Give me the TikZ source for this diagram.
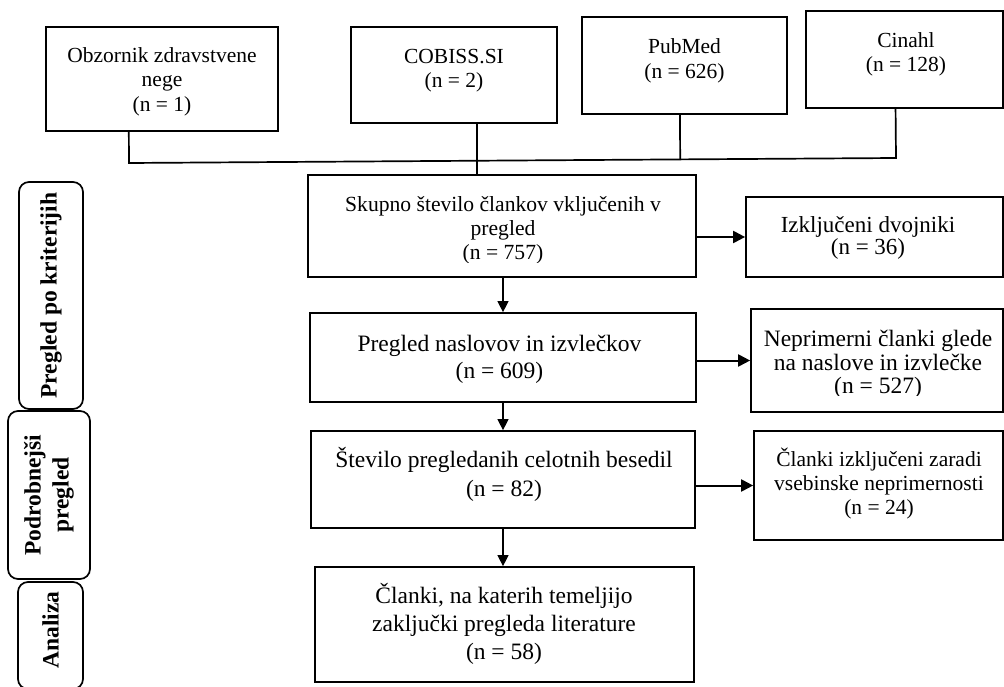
\documentclass[tikz,border=0pt]{standalone}
\usepackage{fontspec}
\setmainfont{Liberation Serif}
\usetikzlibrary{arrows.meta,calc,fit}

\tikzset{
  frame/.style={draw, line width=1.7pt, rectangle, inner sep=0pt},
  phase/.style={draw, line width=1.7pt, rounded corners=10pt, inner sep=0pt},
  toptext/.style={align=center, inner sep=0pt, font=\fontsize{21.5}{24.5}\selectfont},
  midtext/.style={align=center, inner sep=0pt, font=\fontsize{23.5}{28}\selectfont},
  sidetext/.style={align=center, inner sep=0pt, font=\fontsize{22.5}{23.5}\selectfont},
  phasetext/.style={align=center, inner sep=0pt, rotate=90, font=\fontsize{23.5}{28}\selectfont\bfseries},
  conn/.style={line width=1.7pt},
  downarrow/.style={line width=1.1pt, -{Triangle[length=11pt,width=11pt]}},
  sidearrow/.style={line width=2pt, -{Triangle[length=12pt,width=12pt]}},
}

\begin{document}
\begin{tikzpicture}[x=1pt, y=-1pt]
\useasboundingbox (0,0) rectangle (1004,687);
\clip (0,0) rectangle (1004,687);
\fill[white] (0,0) rectangle (1004,687);

% source databases
\node[frame, fit={(46,27) (278,131)}] (obz) {};
\node[frame, fit={(351,27) (557,123)}] (cob) {};
\node[frame, fit={(582,17) (787,114)}] (pub) {};
\node[frame, fit={(806,11) (1003,108)}] (cin) {};
\node[toptext] (obzT) at (162,81.6) {Obzornik zdravstvene\\nege\\(n = 1)};
\node[toptext] (cobT) at (454,70.8) {COBISS.SI\\(n = 2)};
\node[toptext] (pubT) at (684.5,60.8) {PubMed\\(n = 626)};
\node[toptext] (cinT) at (906,54.2) {Cinahl\\(n = 128)};

% main flow
\node[frame, fit={(308,175) (696,277)}] (sku) {};
\node[frame, fit={(310,313) (696,402)}] (tit) {};
\node[frame, fit={(311,431) (695,528)}] (ful) {};
\node[frame, fit={(315,567) (694,682)}] (fin) {};
\begin{scope}
  % the text frame cuts off the last line
  \clip (310,177) rectangle (694,262);
  \node[midtext, font=\fontsize{21.6}{24.2}\selectfont] (skuT) at (503,230.4)
    {Skupno število člankov vključenih v\\pregled\\(n = 757)};
\end{scope}
\node[midtext, font=\fontsize{23.5}{27.3}\selectfont] (titT) at (499.5,359.4) {Pregled naslovov in izvlečkov\\(n = 609)};
\node[midtext, font=\fontsize{23.5}{29}\selectfont] (fulT) at (504,474) {Število pregledanih celotnih besedil\\(n = 82)};
\node[midtext, font=\fontsize{23.5}{27.8}\selectfont] (finT) at (504,624)
  {Članki, na katerih temeljijo\\zaključki pregleda literature\\(n = 58)};

% exclusions
\node[frame, fit={(746,197) (1003,277)}] (dup) {};
\node[frame, fit={(751,309) (1003,412)}] (ntit) {};
\node[frame, fit={(754,431) (1003,540)}] (nful) {};
\node[sidetext, font=\fontsize{23}{22.5}\selectfont] (dupT) at (868,238) {Izključeni dvojniki\\(n = 36)};
\begin{scope}
  \clip (753,311) rectangle (1001,395);
  \node[sidetext, font=\fontsize{23.5}{23.5}\selectfont] (ntitT) at (878,364.5)
    {Neprimerni članki glede\\na naslove in izvlečke\\(n = 527)};
\end{scope}
\node[sidetext, font=\fontsize{21.5}{24.2}\selectfont] (nfulT) at (879,483.4) {Članki izključeni zaradi\\vsebinske neprimernosti\\(n = 24)};

% phase labels
\node[phase, fit={(19,182) (83,409)}] (ph1) {};
\node[phase, fit={(8,411) (90,579)}] (ph2) {};
\node[phase, fit={(18,582) (83,689)}] (ph3) {};
\node[phasetext] (ph1T) at (ph1.center) {Pregled po kriterijih};
\node[phasetext] (ph2T) at (ph2.center) {Podrobnejši\\pregled};
\node[phasetext] (ph3T) at (50.5,630) {Analiza};

% merging lines from the databases
\coordinate (jl) at (129,163);
\coordinate (jr) at (896,158);
\draw[conn] ($(obz.south west)!0.358!(obz.south east)$) -- (jl) -- (jr)
  -- ($(cin.south west)!0.455!(cin.south east)$);
\coordinate (cb) at ($(cob.south west)!0.61!(cob.south east)$);
\draw[conn] (cb) -- (cb |- sku.north);
\coordinate (pb) at ($(pub.south west)!0.478!(pub.south east)$);
\draw[conn] (pb) -- ($(jl)!(pb)!(jr)$);

% flow arrows
\coordinate (ax) at (503,0);
\draw[downarrow] (ax |- sku.south) -- (ax |- tit.north);
\draw[downarrow] (ax |- tit.south) -- (ax |- ful.north);
\draw[downarrow] (ax |- ful.south) -- (ax |- fin.north);
\draw[sidearrow] (sku.east |- dup.west) -- (dup.west);
\draw[sidearrow] (tit.east |- ntit.west) -- (ntit.west);
\draw[sidearrow] (ful.east |- nful.west) -- (nful.west);
\end{tikzpicture}
\end{document}
